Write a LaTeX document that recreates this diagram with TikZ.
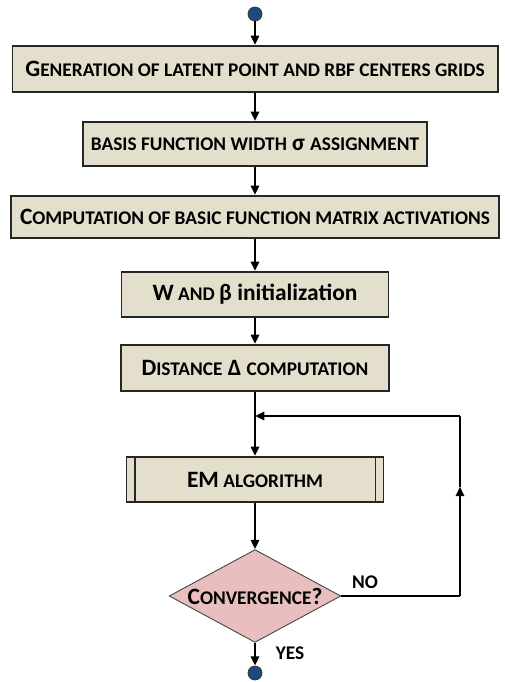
\documentclass[tikz,border=0pt]{standalone}
\usepackage{fontspec}
\setmainfont{Carlito}
\usetikzlibrary{shapes.geometric,arrows.meta}

\definecolor{boxtan}{RGB}{228,223,204}
\definecolor{decpink}{RGB}{232,190,190}
\definecolor{dotblue}{RGB}{31,73,125}
\newcommand{\smsize}{\fontsize{16.5}{19}\selectfont}
\newcommand{\smc}[1]{{\smsize #1}}

\tikzset{
	stepbox/.style={draw=black!85, line width=1.7pt, fill=boxtan, inner sep=0pt,
		font=\fontsize{20}{23}\selectfont\bfseries},
	decision/.style={diamond, draw=black!70, line width=0.8pt, fill=decpink, aspect=1.85,
		inner sep=1pt, font=\fontsize{20}{23}\selectfont\bfseries},
	terminal/.style={circle, draw=black!80, line width=0.6pt, fill=dotblue, minimum size=0.42cm, inner sep=0pt},
	flow/.style={line width=2.3pt},
	lbl/.style={font=\bfseries\smsize}
}

\begin{document}
\begin{tikzpicture}[>={Triangle[length=8pt,width=7pt]}]
	\useasboundingbox (0,0) rectangle (15.12,-20.46);

	\node[terminal] (S) at (7.65,-0.42) {};
	\node[stepbox, minimum width=14.55cm, minimum height=1.38cm] (G) at (7.65,-2.07) {G\smc{ENERATION OF LATENT POINT AND RBF CENTERS GRIDS}};
	\node[stepbox, minimum width=10.32cm, minimum height=1.32cm] (W) at (7.65,-4.32) {\smc{BASIS FUNCTION WIDTH} σ \smc{ASSIGNMENT}};
	\node[stepbox, minimum width=14.64cm, minimum height=1.26cm] (C) at (7.65,-6.51) {C\smc{OMPUTATION OF BASIC FUNCTION MATRIX ACTIVATIONS}};
	\node[stepbox, minimum width=8.01cm, minimum height=1.35cm] (I) at (7.65,-8.835) {W\smc{ AND }β initialization};
	\node[stepbox, minimum width=8.04cm, minimum height=1.38cm] (D) at (7.65,-11.04) {D\smc{ISTANCE} Δ \smc{COMPUTATION}};
	\node[stepbox, minimum width=7.71cm, minimum height=1.35cm] (E) at (7.65,-14.385) {EM\smc{ ALGORITHM}};
	\draw[line width=1.7pt, draw=black!85] ([xshift=0.27cm]E.north west) -- ([xshift=0.27cm]E.south west);
	\draw[line width=1.7pt, draw=black!85] ([xshift=-0.27cm]E.north east) -- ([xshift=-0.27cm]E.south east);

	\node[decision, minimum width=4.98cm, minimum height=2.7cm] (V) at (7.65,-17.88) {C\smc{ONVERGENCE}?};
	\node[terminal] (T) at (7.65,-20.19) {};

	\coordinate (L1) at (13.8,-17.88);
	\coordinate (L2) at (13.8,-14.6);
	\coordinate (L3) at (13.8,-12.48);
	\coordinate (J) at (7.65,-12.48);

	\draw [->, flow] (S) -- (G);
	\draw [->, flow] (G) -- (W);
	\draw [->, flow] (W) -- (C);
	\draw [->, flow] (C) -- (I);
	\draw [->, flow] (I) -- (D);
	\draw [->, flow] (D) -- (E);
	\draw [->, flow] (E) -- (V);
	\draw [->, flow] (V) -- (T);

	% loop back
	\draw [flow] (V.east) -- (L1);
	\draw [->, flow] (L1) -- (L2);
	\draw [flow] (L2) -- (L3);
	\draw [->, flow] (L3) -- (J);

	\node[lbl] (no) at (10.95,-17.46) {NO};
	\node[lbl] (yes) at (8.7,-19.59) {YES};
\end{tikzpicture}
\end{document}
